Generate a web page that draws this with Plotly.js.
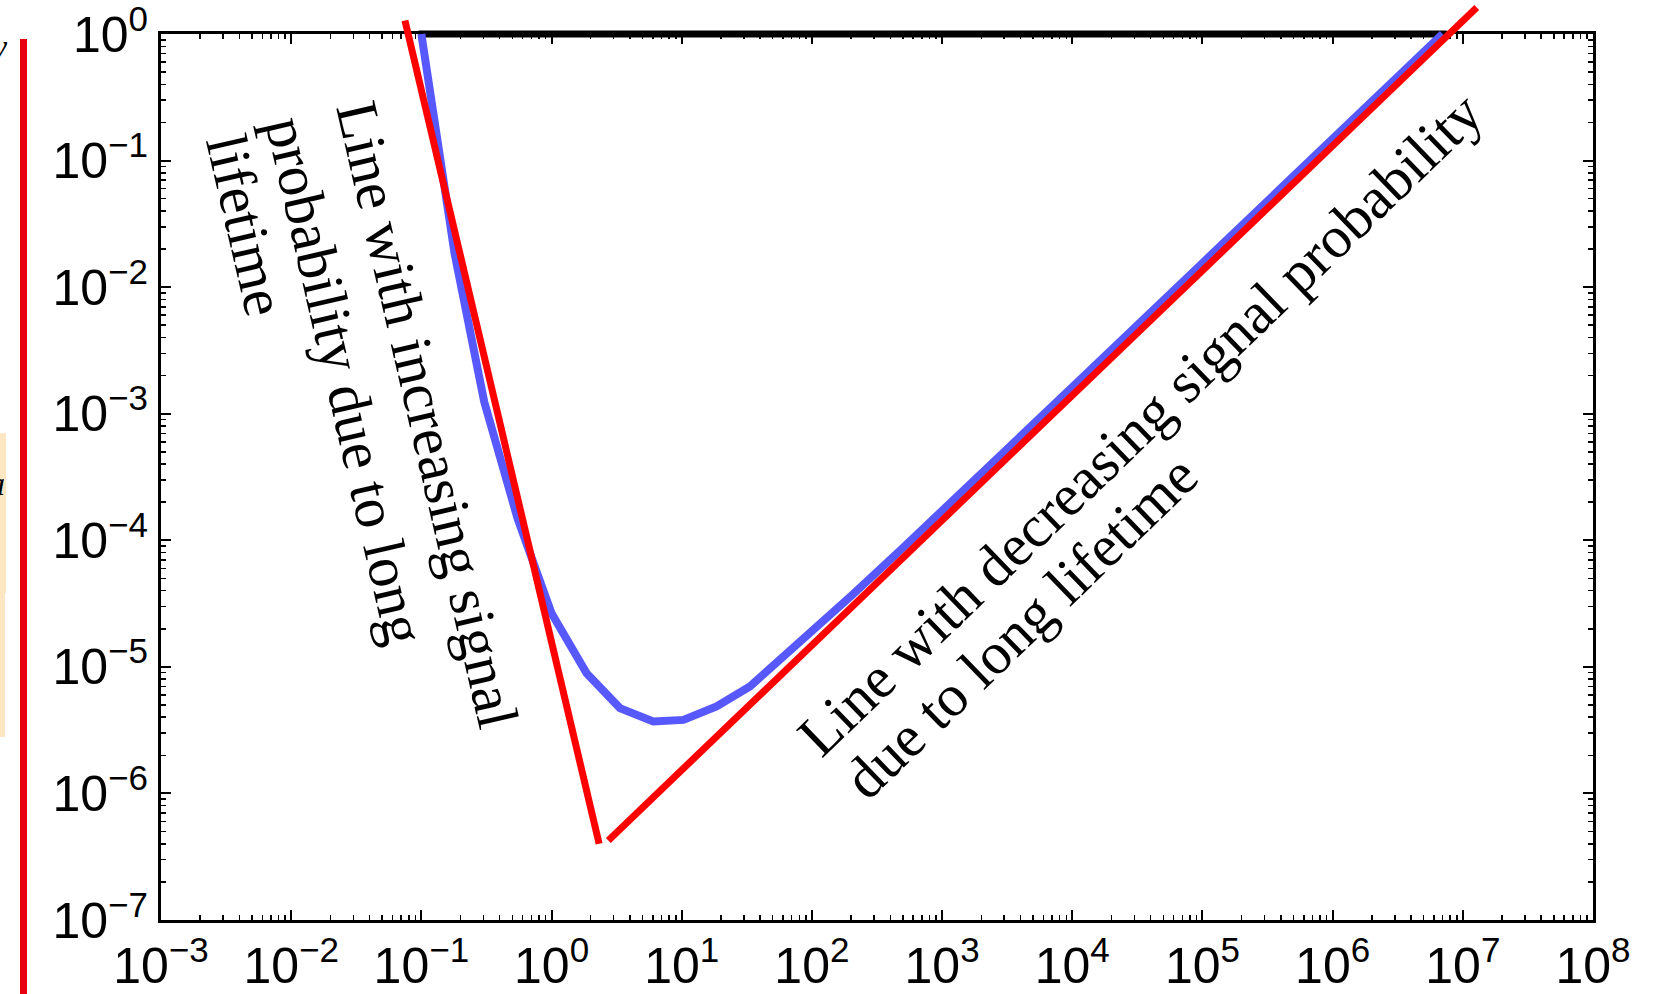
<!DOCTYPE html>
<html><head><meta charset="utf-8">
<script src="https://cdn.plot.ly/plotly-3.0.1.min.js"></script>
<style>html,body{margin:0;padding:0;background:#fff;overflow:hidden}#chart{width:1658px;height:994px}</style>
</head><body><div id="chart"></div>
<script>
// ---- data ----
const blueX = [0.1, 0.18, 0.304, 0.55, 1.0, 1.86, 3.35, 6.04, 10.3, 18.5, 33.4, 60, 108, 200, 500, 1000, 1e4, 1e5, 1e6, 7e6];
const blueY = [1.0, 0.0184, 1.24e-3, 1.47e-4, 2.65e-5, 8.9e-6, 4.72e-6, 3.7e-6, 3.81e-6, 4.86e-6, 6.99e-6, 1.19e-5, 2.01e-5, 3.63e-5, 8.7e-5, 1.70e-4, 1.62e-3, 1.55e-2, 0.148, 1.0];
const redLeftX = [0.0748, 2.32];
const redLeftY = [1.28, 4.0e-7];
const redRightX = [2.73, 1.28e7];
const redRightY = [4.25e-7, 1.62];
const topBarX = [0.095, 7.5e6];
const topBarY = [1, 1];
const xTickVals = [1e-3, 1e-2, 1e-1, 1e0, 1e1, 1e2, 1e3, 1e4, 1e5, 1e6, 1e7, 1e8];
const xTickText = ['10<sup>\u22123</sup>','10<sup>\u22122</sup>','10<sup>\u22121</sup>','10<sup>0</sup>','10<sup>1</sup>','10<sup>2</sup>','10<sup>3</sup>','10<sup>4</sup>','10<sup>5</sup>','10<sup>6</sup>','10<sup>7</sup>','10<sup>8</sup>'];
const yTickVals = [1e-7, 1e-6, 1e-5, 1e-4, 1e-3, 1e-2, 1e-1, 1e0];
const yTickText = ['10<sup>\u22127</sup>','10<sup>\u22126</sup>','10<sup>\u22125</sup>','10<sup>\u22124</sup>','10<sup>\u22123</sup>','10<sup>\u22122</sup>','10<sup>\u22121</sup>','10<sup>0</sup>'];
const annLeftLines = ['Line with increasing signal', 'probability due to long', 'lifetime'];
const annRightLines = ['Line with decreasing signal probability', 'due to long lifetime'];

// ---- layout geometry (pixels) ----
const W = 1658, H = 994, L = 161, R = 65, T = 4, B = 74;
const plotW = W - L - R, plotH = H - T - B;
const frameTop = 34;
const mainDomTop = (H - B - frameTop) / plotH;
const y2Top = -7 + 7 / mainDomTop;
const px = x => (x - L) / plotW;
const py = y => (H - B - y) / plotH;

const annLeftPos = [[427.7, 415.0], [345.8, 380.7], [245.8, 225.2]];
const annRightPos = [[1140, 424], [1020.5, 627]];
const serif = 'Liberation Serif, Times New Roman, serif';
const sans = 'Liberation Sans, Arial, Helvetica, sans-serif';

const annotations = [];
annLeftLines.forEach((t, i) => annotations.push({
  text: t, xref: 'paper', yref: 'paper', x: px(annLeftPos[i][0]), y: py(annLeftPos[i][1]),
  xanchor: 'center', yanchor: 'middle', showarrow: false, textangle: 77,
  font: {family: serif, size: 59, color: '#000'}
}));
annRightLines.forEach((t, i) => annotations.push({
  text: t, xref: 'paper', yref: 'paper', x: px(annRightPos[i][0]), y: py(annRightPos[i][1]),
  xanchor: 'center', yanchor: 'middle', showarrow: false, textangle: -44,
  font: {family: serif, size: 59, color: '#000'}
}));
// fragments of the neighbouring panel at the left edge
annotations.push({text: '<i>y</i>', xref: 'paper', yref: 'paper', x: px(10), y: py(46), xanchor: 'right', yanchor: 'middle', showarrow: false, font: {family: serif, size: 34, color: '#000'}});
annotations.push({text: '<i>a</i>', xref: 'paper', yref: 'paper', x: px(7), y: py(483), xanchor: 'right', yanchor: 'middle', showarrow: false, font: {family: serif, size: 34, color: '#000'}});

const shapes = [
  {type: 'rect', xref: 'paper', yref: 'paper', x0: px(-10), x1: px(6), y0: py(593), y1: py(433), fillcolor: '#FDE6C2', line: {width: 0}, layer: 'below'},
  {type: 'rect', xref: 'paper', yref: 'paper', x0: px(-10), x1: px(5), y0: py(737), y1: py(593), fillcolor: '#FDE6C2', line: {width: 0}, layer: 'below'},
  {type: 'rect', xref: 'paper', yref: 'paper', x0: px(20), x1: px(27), y0: py(1000), y1: py(39), fillcolor: '#E60012', line: {width: 0}, layer: 'above'}
];

const axisCommon = {
  type: 'log', tickmode: 'array', ticks: 'inside', ticklen: 10, tickwidth: 2, tickcolor: '#000',
  showline: true, linewidth: 3, linecolor: '#000', mirror: 'ticks', showgrid: false, zeroline: false,
  ticklabeloverflow: 'allow',
  tickfont: {family: sans, size: 50, color: '#000'},
  minor: {tickmode: 'linear', dtick: 'D1', ticks: 'inside', ticklen: 5, tickwidth: 1.5, tickcolor: '#000', showgrid: false}
};

const traces = [
  {x: [null], y: [null], xaxis: 'x', yaxis: 'y', mode: 'lines', hoverinfo: 'skip', showlegend: false},
  {x: topBarX, y: topBarY, xaxis: 'x2', yaxis: 'y2', mode: 'lines', line: {color: '#000', width: 7}, hoverinfo: 'skip'},
  {x: blueX, y: blueY, xaxis: 'x2', yaxis: 'y2', mode: 'lines', line: {color: 'rgb(88,88,255)', width: 8}},
  {x: redLeftX, y: redLeftY, xaxis: 'x2', yaxis: 'y2', mode: 'lines', line: {color: '#FF0000', width: 7}},
  {x: redRightX, y: redRightY, xaxis: 'x2', yaxis: 'y2', mode: 'lines', line: {color: '#FF0000', width: 7}}
];

const layout = {
  width: W, height: H, margin: {l: L, r: R, t: T, b: B, pad: 0},
  paper_bgcolor: '#fff', plot_bgcolor: 'rgba(0,0,0,0)', showlegend: false,
  xaxis: Object.assign({}, axisCommon, {range: [-3, 8], autorange: false, domain: [0, 1], anchor: 'y', tickvals: xTickVals, ticktext: xTickText}),
  yaxis: Object.assign({}, axisCommon, {range: [-7, 0], autorange: false, domain: [0, mainDomTop], anchor: 'x', tickvals: yTickVals, ticktext: yTickText}),
  xaxis2: {type: 'log', range: [-3, 8], autorange: false, domain: [0, 1], anchor: 'y2', visible: false, showgrid: false, zeroline: false},
  yaxis2: {type: 'log', range: [-7, y2Top], autorange: false, domain: [0, 1], anchor: 'x2', visible: false, showgrid: false, zeroline: false},
  annotations: annotations, shapes: shapes
};

Plotly.newPlot('chart', traces, layout, {displayModeBar: false, staticPlot: true});
</script>
</body></html>
